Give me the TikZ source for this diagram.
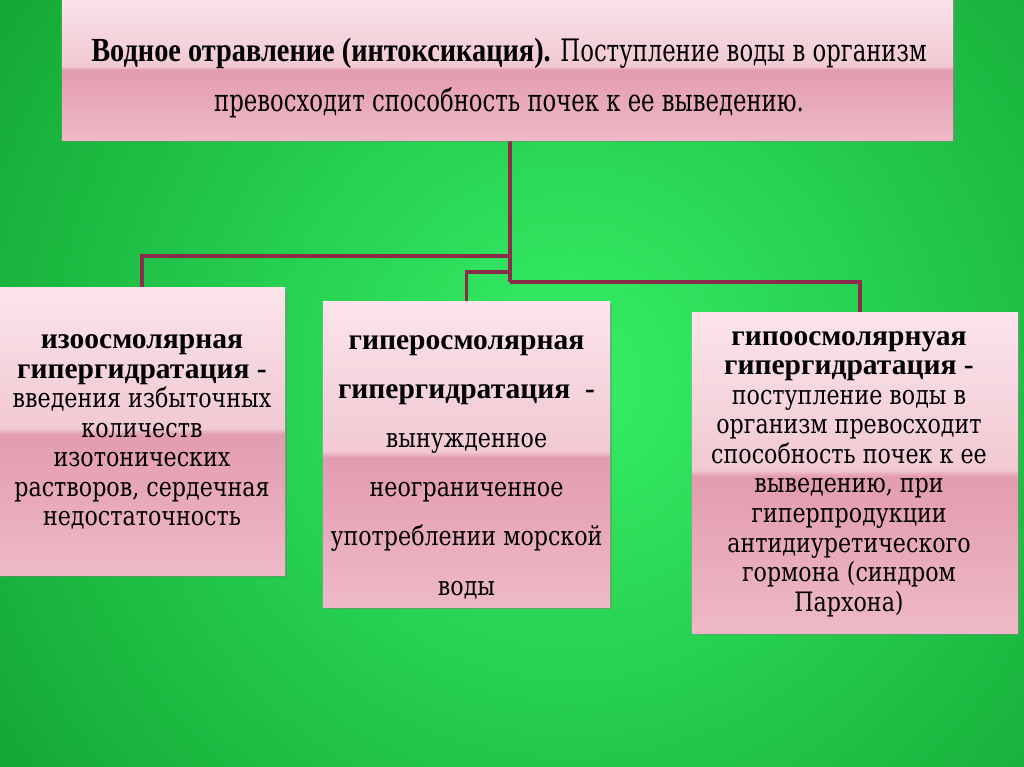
\documentclass[tikz,border=0pt]{standalone}
\usepackage{fontspec}
\setmainfont{Liberation Serif}
\newfontfamily\boxserif[FakeStretch=0.83]{DejaVu Serif}
\newfontfamily\boldserif{Liberation Serif}
\newfontfamily\narrowserif[FakeStretch=0.735]{DejaVu Serif}
\newfontfamily\narrowbold[FakeStretch=0.84]{Liberation Serif}
\newcommand{\boldpart}[1]{{\boldserif\bfseries\fontsize{21}{21}\selectfont #1}}
\usetikzlibrary{positioning,shadows}
\definecolor{bgcentre}{HTML}{36F066}
\definecolor{bgedge}{HTML}{10A030}
\definecolor{boxtop}{HTML}{FBE4EA}
\definecolor{boxupper}{HTML}{F1C9D3}
\definecolor{boxdark}{HTML}{E39CAF}
\definecolor{boxlow}{HTML}{EEB9C6}
\definecolor{linkred}{HTML}{8A2C4A}
\pgfdeclareverticalshading{glossy}{100bp}{color(0bp)=(boxlow); color(25bp)=(boxlow); color(49.5bp)=(boxdark); color(50.5bp)=(boxupper); color(75bp)=(boxtop); color(100bp)=(boxtop)}
\tikzset{
  pinkbox/.style={rectangle, shading=glossy, inner sep=0pt,
    drop shadow={shadow xshift=1.6pt, shadow yshift=-1.6pt, opacity=0.55}},
  boxtext/.style={align=center, inner sep=0pt, text=black},
  link/.style={draw=linkred, line width=2.6pt}
}

\begin{document}
\begin{tikzpicture}[x=0.025cm,y=-0.025cm]
\useasboundingbox (0,0) rectangle (1024,767);
\begin{scope}
\clip (0,0) rectangle (1024,767);
\shade[inner color=bgcentre, outer color=bgedge] (570,380) circle (760);
\end{scope}
% connectors
\coordinate (hub) at (510,282);
\coordinate (toptee) at (510,140);
\draw[link] (toptee) -- (hub);
\draw[link] (hub |- 0,256) -| (142,288);
\draw[link] (hub |- 0,272) -| (466.5,302);
\draw[link] (hub) -| (860,313);
% boxes
\node[pinkbox, minimum width=22.28cm, minimum height=3.6cm] (top) at (507.5,68) {};
\node[pinkbox, minimum width=7.18cm, minimum height=7.18cm] (left) at (141.5,431.5) {};
\node[pinkbox, minimum width=7.18cm, minimum height=7.63cm] (mid) at (466.5,454.5) {};
\node[pinkbox, minimum width=8.15cm, minimum height=8cm] (right) at (855,473) {};
% texts
\node[boxtext, font=\narrowserif\fontsize{22}{36}\selectfont] (toptext) at (509,78)
  {{\narrowbold\bfseries\fontsize{24}{36}\selectfont Водное отравление (интоксикация).}
   Поступление воды в организм\\
   превосходит способность почек к ее выведению.};
\node[boxtext, font=\boxserif\fontsize{19}{21}\selectfont] (lefttext) at (142,432)
  {\boldpart{изоосмолярная}\\ \boldpart{гипергидратация -}\\ введения избыточных\\
   количеств\\ изотонических\\ растворов, сердечная\\ недостаточность};
\node[boxtext, font=\boxserif\fontsize{19}{35}\selectfont] (midtext) at (466.5,467)
  {\boldpart{гиперосмолярная}\\ \boldpart{гипергидратация\ \ -}\\ вынужденное\\
   неограниченное\\ употреблении морской\\ воды};
\node[boxtext, font=\boxserif\fontsize{19}{21}\selectfont] (righttext) at (849,474)
  {\boldpart{гипоосмолярнуая}\\ \boldpart{гипергидратация -}\\ поступление воды в\\
   организм превосходит\\ способность почек к ее\\ выведению, при\\
   гиперпродукции\\ антидиуретического\\ гормона (синдром\\ Пархона)};
\end{tikzpicture}
\end{document}
